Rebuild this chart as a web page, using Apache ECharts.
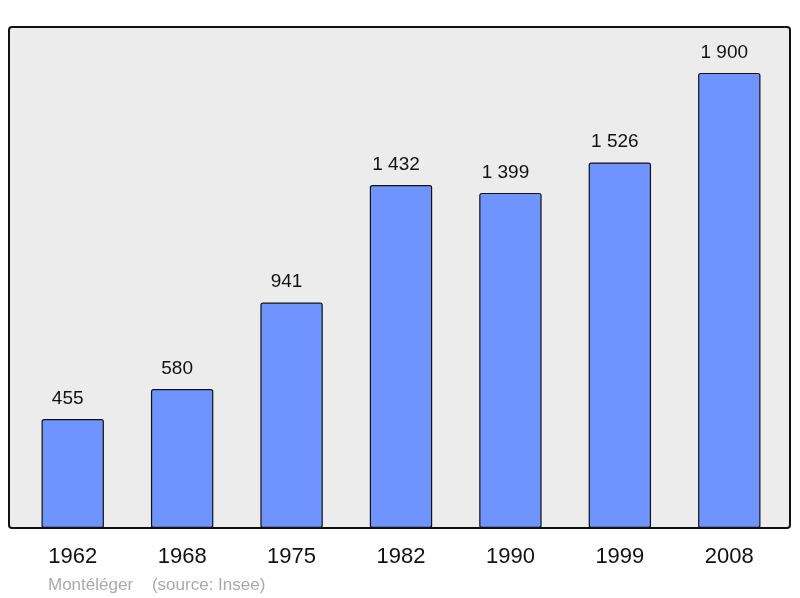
<!DOCTYPE html>
<html>
<head>
<meta charset="utf-8">
<script src="https://cdn.jsdelivr.net/npm/echarts@6/dist/echarts.min.js"></script>
<style>
  html, body { margin: 0; padding: 0; background: #fff; }
  #chart { width: 800px; height: 598px; }
</style>
</head>
<body>
<div id="chart"></div>
<script>
const years = ['1962', '1968', '1975', '1982', '1990', '1999', '2008'];
const population = [455, 580, 941, 1432, 1399, 1526, 1900];
const footnote = 'Montéléger    (source: Insee)';

// espace comme séparateur des milliers
function fmt(v) {
  return String(v).replace(/\B(?=(\d{3})+(?!\d))/g, ' ');
}

const chart = echarts.init(document.getElementById('chart'));
chart.setOption({
  animation: false,
  textStyle: { fontFamily: 'Liberation Sans, Arial, sans-serif' },
  graphic: [
    {
      type: 'rect',
      z: -10,
      shape: { x: 9, y: 27, width: 781, height: 501, r: 3 },
      style: { fill: '#ececec', stroke: '#111', lineWidth: 2 }
    },
    {
      type: 'text',
      left: 48,
      top: 577,
      style: { text: footnote, fill: '#aaaaaa', font: '17px Liberation Sans, Arial, sans-serif' }
    }
  ],
  grid: { left: 18, right: 16, top: 25, bottom: 70 },
  xAxis: {
    type: 'category',
    data: years,
    axisLine: { show: false },
    axisTick: { show: false },
    axisLabel: { color: '#111', fontSize: 22, margin: 18 }
  },
  yAxis: {
    type: 'value',
    min: 0,
    max: 2100,
    show: false,
    splitLine: { show: false }
  },
  series: [{
    type: 'bar',
    data: population,
    barWidth: '57%',
    itemStyle: { color: '#7094ff', borderColor: '#111', borderWidth: 1.2, borderRadius: 2 },
    label: {
      show: true,
      position: 'top',
      distance: 14,
      offset: [-5, 3],
      color: '#111',
      fontSize: 19,
      formatter: p => fmt(p.value)
    }
  }]
});
</script>
</body>
</html>
